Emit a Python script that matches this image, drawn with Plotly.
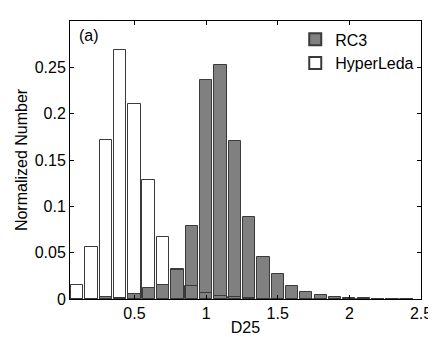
import plotly.graph_objects as go

d25 = [0.1, 0.2, 0.3, 0.4, 0.5, 0.6, 0.7, 0.8, 0.9, 1.0, 1.1, 1.2,
       1.3, 1.4, 1.5, 1.6, 1.7, 1.8, 1.9, 2.0, 2.1, 2.2, 2.3, 2.4]
rc3 = [0.0, 0.0, 0.002, 0.001, 0.0049, 0.0115, 0.0147, 0.0325, 0.079, 0.2366, 0.252, 0.171,
       0.089, 0.0454, 0.0273, 0.014, 0.0073, 0.004, 0.0022, 0.0014, 0.001, 0.0005, 0.0005, 0.0]
hyperleda = [0.015, 0.0563, 0.1715, 0.2687, 0.21, 0.128, 0.067, 0.031, 0.0136, 0.0066, 0.0028, 0.0018,
             0.0006, 0.0003, 0.0, 0.0, 0.0, 0.0, 0.0, 0.0, 0.0, 0.0, 0.0, 0.0]

xticks = [0.5, 1, 1.5, 2, 2.5]
xticklabels = ["0.5", "1", "1.5", "2", "2.5"]
yticks = [0, 0.05, 0.1, 0.15, 0.2, 0.25]
yticklabels = ["0", "0.05", "0.1", "0.15", "0.2", "0.25"]

font = "Liberation Sans, Arial, Helvetica, sans-serif"

fig = go.Figure()
fig.add_trace(go.Bar(x=d25, y=rc3, name="RC3", width=0.085,
                     marker=dict(color="#808080", line=dict(color="#3a3a3a", width=1))))
fig.add_trace(go.Bar(x=d25, y=hyperleda, name="HyperLeda", width=0.088,
                     marker=dict(color="rgba(255,255,255,0)", line=dict(color="#3a3a3a", width=1))))

axis_common = dict(showgrid=False, zeroline=False, showline=True, linecolor="black", linewidth=1,
                   mirror="ticks", ticks="inside", ticklen=4, tickcolor="black",
                   tickfont=dict(family=font, size=16, color="black"))

fig.update_layout(
    width=436, height=337,
    margin=dict(l=58, r=15, t=12, b=39),
    barmode="overlay", bargap=0,
    plot_bgcolor="white", paper_bgcolor="white",
    font=dict(family=font, size=16, color="black"),
    xaxis=dict(range=[0.05, 2.5], tickvals=xticks, ticktext=xticklabels,
               title=dict(text="D25", font=dict(size=16), standoff=0), **axis_common),
    yaxis=dict(range=[0, 0.3], tickvals=yticks, ticktext=yticklabels,
               title=dict(text="Normalized Number", font=dict(size=16), standoff=3), **axis_common),
    legend=dict(x=0.995, y=0.995, xanchor="right", yanchor="top", bgcolor="rgba(255,255,255,0)",
                font=dict(family=font, size=16), tracegroupgap=0, itemsizing="constant"),
    annotations=[dict(text="(a)", x=0.02, y=0.985, xref="paper", yref="paper",
                      xanchor="left", yanchor="top", showarrow=False,
                      font=dict(family=font, size=16))],
)

fig.write_html("out.html")
